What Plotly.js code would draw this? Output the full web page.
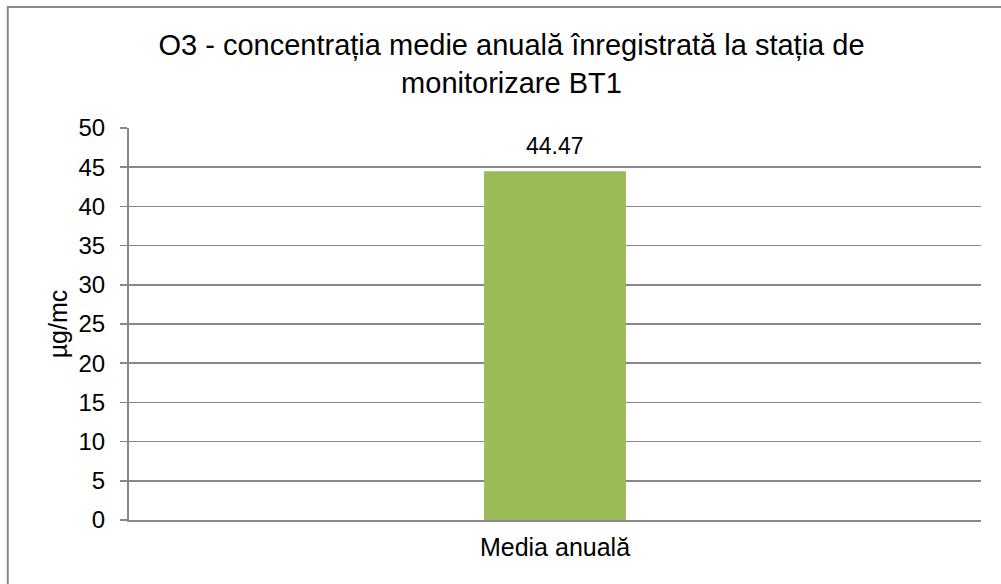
<!DOCTYPE html>
<html>
<head>
<meta charset="utf-8">
<script src="https://cdn.plot.ly/plotly-3.0.1.min.js"></script>
<style>
html,body{margin:0;padding:0;background:#fff;}
#chart{width:1001px;height:584px;}
</style>
</head>
<body>
<div id="chart"></div>
<script>
const categories = ["Media anuală"];
const values = [44.47];
const valueLabels = ["44.47"];
const yTicks = [0, 5, 10, 15, 20, 25, 30, 35, 40, 45, 50];

const font = "Liberation Sans, Arial, sans-serif";
const grid = "#888888";

const trace = {
  type: "bar",
  x: categories,
  y: values,
  marker: {color: "#9BBB59"},
  width: 0.1665,
  hoverinfo: "x+y"
};

const annotations = categories.map((c, i) => ({
  x: c, y: values[i], xref: "x", yref: "y",
  text: valueLabels[i], showarrow: false,
  yanchor: "bottom", yshift: 10,
  font: {family: font, size: 23, color: "#000"}
}));

const layout = {
  width: 1001,
  height: 584,
  margin: {l: 129, r: 20, t: 128, b: 64},
  paper_bgcolor: "#fff",
  plot_bgcolor: "#fff",
  showlegend: false,
  title: {
    text: "O3 - concentrația medie anuală înregistrată la stația de<br>monitorizare BT1",
    font: {family: font, size: 29, color: "#000"},
    x: 0.511, xref: "container", xanchor: "center",
    y: 1 - 55/584, yref: "container", yanchor: "middle"
  },
  xaxis: {
    type: "category",
    showgrid: false,
    showline: true,
    linecolor: grid,
    linewidth: 2,
    ticks: "",
    tickfont: {family: font, size: 25, color: "#000"},
    ticklabelstandoff: 4,
    fixedrange: true
  },
  yaxis: {
    range: [0, 50],
    tickvals: yTicks,
    ticktext: yTicks.map(String),
    showgrid: true,
    gridcolor: grid,
    gridwidth: 1.5,
    showline: true,
    linecolor: grid,
    linewidth: 2,
    ticks: "outside",
    ticklen: 7,
    tickwidth: 1.5,
    tickcolor: grid,
    ticklabelstandoff: 10,
    zeroline: false,
    tickfont: {family: font, size: 24, color: "#000"},
    title: {text: "µg/mc", font: {family: font, size: 25, color: "#000"}, standoff: 4},
    fixedrange: true
  },
  annotations: annotations,
  shapes: [{
    type: "rect", xref: "paper", yref: "paper",
    x0: -0.1423, x1: 1.1, y0: -0.3, y1: 1.3087,
    line: {color: "#888888", width: 2}, fillcolor: "rgba(0,0,0,0)", layer: "below"
  }]
};

Plotly.newPlot("chart", [trace], layout, {displayModeBar: false, staticPlot: true});
</script>
</body>
</html>
